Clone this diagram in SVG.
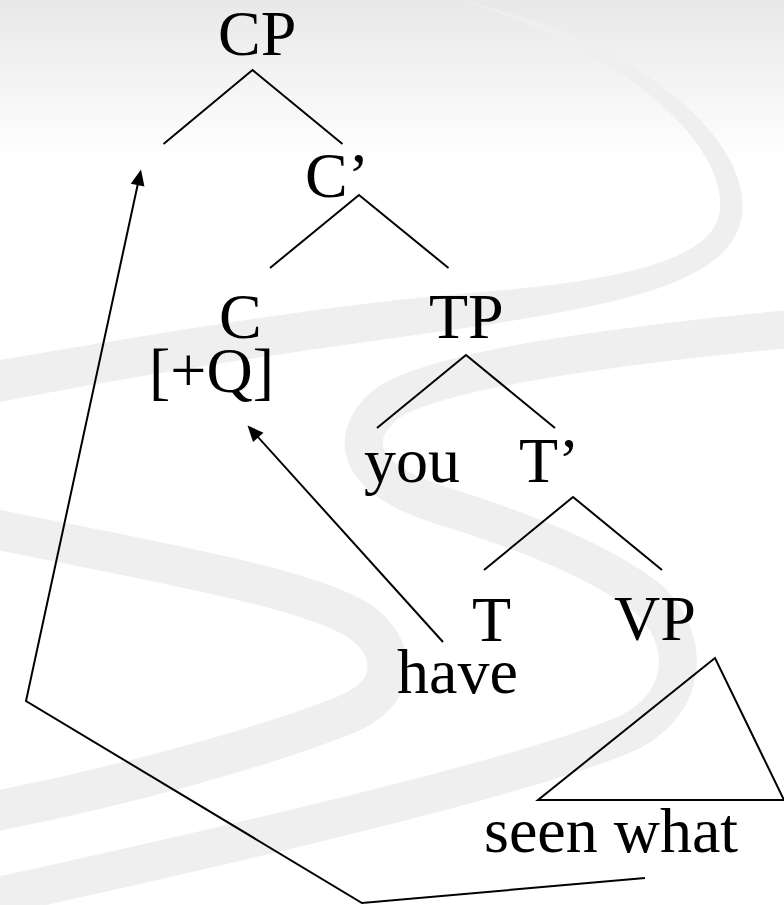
<svg xmlns="http://www.w3.org/2000/svg" width="784" height="905" viewBox="0 0 784 905">
  <defs>
    <linearGradient id="topfade" x1="0" y1="0" x2="0" y2="1">
      <stop offset="0" stop-color="#e8e8e8"/>
      <stop offset="1" stop-color="#ffffff"/>
    </linearGradient>
    <marker id="arrow" markerUnits="userSpaceOnUse" markerWidth="16" markerHeight="14" refX="8" refY="7" orient="auto" overflow="visible">
      <path d="M0,0 L16,7 L0,14 Z" fill="#000"/>
    </marker>
    <style>
      .lbl { font-family: "Liberation Serif", "Times New Roman", serif; font-size: 64px; fill: #000; }
      .br { fill: none; stroke: #000; stroke-width: 2; stroke-linejoin: miter; }
      .mv { fill: none; stroke: #000; stroke-width: 2; marker-end: url(#arrow); }
      .rib { fill: none; stroke: #efefef; stroke-linecap: butt; }
    </style>
  </defs>

  <g id="background">
    <rect x="0" y="0" width="784" height="905" fill="#ffffff"/>
    <rect x="0" y="0" width="784" height="160" fill="url(#topfade)"/>
    <path d="M460,0 C 640,40 752,140 742,215 C 733,285 610,305 480,326 C 320,348 150,372 0,402 L0,360 C 150,335 320,305 480,292 C 610,282 715,262 720,210 C 726,150 640,55 460,0 Z" fill="#efefef"/>
    <path class="rib" stroke-width="38" d="M800,328 C 620,345 430,370 385,405 C 345,440 360,480 440,505 C 520,530 600,560 650,600 C 690,640 690,700 630,732 C 550,768 300,830 -10,898"/>
    <path class="rib" stroke-width="40" d="M-10,528 C 170,565 320,590 365,625 C 400,655 395,695 345,715 C 270,745 130,785 -10,812"/>
  </g>

  <g id="connectors">
    <path id="move-wh" class="mv" d="M645,878 L362,903 L26,701 L139.3,177.3"/>
    <path id="move-T" class="mv" d="M443,642 L252.9,431.4"/>
  </g>

  <g id="node-CP">
    <text class="lbl" x="218" y="55">CP</text>
    <path class="br" d="M163.5,144 L252.5,70 L342.5,144"/>
  </g>
  <g id="node-Cbar">
    <text class="lbl" x="305" y="197">C’</text>
    <path class="br" d="M270,268 L359,195 L448.5,268"/>
  </g>
  <g id="node-C">
    <text class="lbl" x="219" y="338">C</text>
    <text class="lbl" x="149" y="392">[+Q]</text>
  </g>
  <g id="node-TP">
    <text class="lbl" x="429" y="338">TP</text>
    <path class="br" d="M377,428 L466,355 L555,428"/>
  </g>
  <g id="node-you">
    <text class="lbl" x="364" y="482">you</text>
  </g>
  <g id="node-Tbar">
    <text class="lbl" x="519" y="482">T’</text>
    <path class="br" d="M484,570 L573,497 L662,570"/>
  </g>
  <g id="node-T">
    <text class="lbl" x="472" y="641">T</text>
    <text class="lbl" x="397" y="693">have</text>
  </g>
  <g id="node-VP">
    <text class="lbl" x="614" y="640">VP</text>
    <path class="br" d="M715,658 L538,800 L784,800 Z"/>
    <text class="lbl" x="484" y="852">seen what</text>
  </g>
</svg>
